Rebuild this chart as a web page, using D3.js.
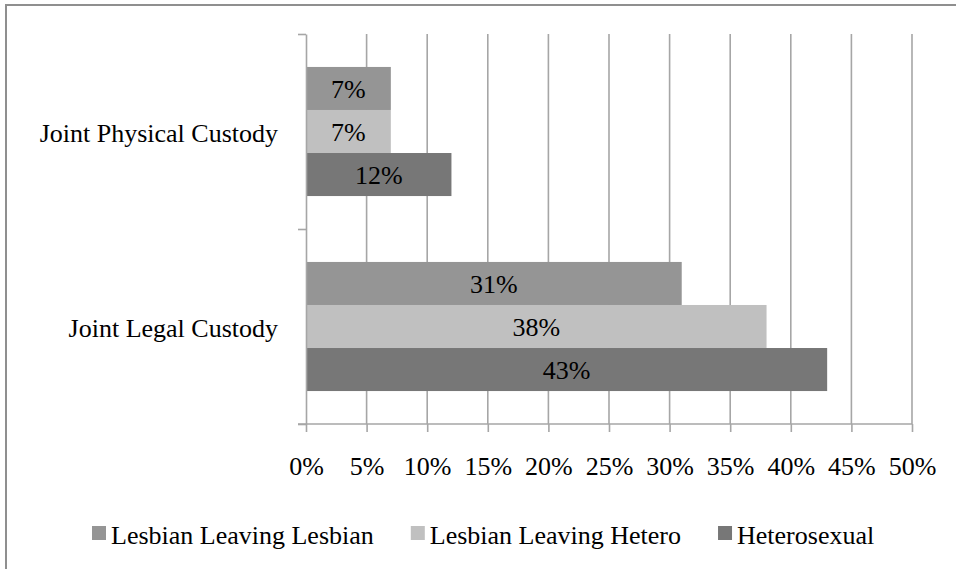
<!DOCTYPE html>
<html>
<head>
<meta charset="utf-8">
<script src="https://cdn.jsdelivr.net/npm/d3@7"></script>
<style>
  body { margin: 0; background: #fff; }
  text { font-family: "Liberation Serif", "Times New Roman", serif; fill: #000; }
</style>
</head>
<body>
<div id="chart"></div>
<script>
// Chart data
const categories = ["Joint Physical Custody", "Joint Legal Custody"];
const seriesNames = ["Lesbian Leaving Lesbian", "Lesbian Leaving Hetero", "Heterosexual"];
const lesbianLeavingLesbian = [7, 31];
const lesbianLeavingHetero = [7, 38];
const heterosexual = [12, 43];
const xTicks = [0, 5, 10, 15, 20, 25, 30, 35, 40, 45, 50];

const seriesValues = [lesbianLeavingLesbian, lesbianLeavingHetero, heterosexual];
const colors = ["#959595", "#c0c0c0", "#777777"];

drawBarChart();

function drawBarChart() {
    const width = 956, height = 569;
    const margin = { top: 34, right: 44, bottom: 145, left: 306 };
    const plotW = width - margin.left - margin.right;
    const plotH = height - margin.top - margin.bottom;
    const gridColor = "#a6a6a6";

    const svg = d3.select("#chart")
        .append("svg")
        .attr("width", width)
        .attr("height", height);

    // Outer frame (only top and left edges are in view)
    svg.append("path")
        .attr("d", `M6,${height} L6,5 L${width},5`)
        .attr("fill", "none")
        .attr("stroke", "#8f8f8f")
        .attr("stroke-width", 2);

    const g = svg.append("g")
        .attr("transform", `translate(${margin.left},${margin.top})`);

    // Scales
    const x = d3.scaleLinear().domain([0, 50]).range([0, plotW]);
    const y0 = d3.scaleBand()
        .domain(categories)
        .range([0, plotH])
        .paddingInner(0.338)
        .paddingOuter(0.169);
    const y1 = d3.scaleBand()
        .domain(seriesNames)
        .range([0, y0.bandwidth()]);

    // Vertical gridlines
    g.selectAll(".grid")
        .data(xTicks.slice(1))
        .enter()
        .append("line")
        .attr("x1", d => x(d))
        .attr("x2", d => x(d))
        .attr("y1", 0)
        .attr("y2", plotH)
        .attr("stroke", gridColor)
        .attr("stroke-width", 1.6);

    // Bars + value labels
    categories.forEach(function(cat, ci) {
        seriesNames.forEach(function(name, si) {
            const v = seriesValues[si][ci];
            g.append("rect")
                .attr("x", x(0))
                .attr("y", y0(cat) + y1(name))
                .attr("width", x(v) - x(0))
                .attr("height", y1.bandwidth())
                .attr("fill", colors[si]);
            g.append("text")
                .attr("x", x(v) / 2)
                .attr("y", y0(cat) + y1(name) + y1.bandwidth() / 2)
                .attr("dy", "0.36em")
                .attr("text-anchor", "middle")
                .style("font-size", "26px")
                .text(v + "%");
        });
    });

    // X axis
    const xAxis = g.append("g")
        .attr("transform", `translate(0,${plotH})`)
        .call(d3.axisBottom(x)
            .tickValues(xTicks)
            .tickSize(8)
            .tickSizeOuter(0)
            .tickPadding(25)
            .tickFormat(d => d + "%"));
    xAxis.select(".domain").remove();
    xAxis.selectAll(".tick line").attr("stroke", gridColor).attr("stroke-width", 1.6);
    xAxis.selectAll(".tick text")
        .style("font-size", "26px")
        .style("font-family", "'Liberation Serif', 'Times New Roman', serif");
    xAxis.append("line")
        .attr("x1", -8).attr("x2", plotW)
        .attr("stroke", gridColor).attr("stroke-width", 1.6);

    // Y axis, ticks sit on the category boundaries
    const yEdge = d3.scaleLinear().domain([0, categories.length]).range([0, plotH]);
    const yAxis = g.append("g")
        .call(d3.axisLeft(yEdge)
            .tickValues(d3.range(categories.length + 1))
            .tickSize(8)
            .tickSizeOuter(0)
            .tickFormat(""));
    yAxis.select(".domain").attr("stroke", gridColor).attr("stroke-width", 1.6);
    yAxis.selectAll(".tick line").attr("stroke", gridColor).attr("stroke-width", 1.6);

    // Category labels
    g.selectAll(".cat")
        .data(categories)
        .enter()
        .append("text")
        .attr("x", -28)
        .attr("y", d => y0(d) + y0.bandwidth() / 2)
        .attr("dy", "0.42em")
        .attr("text-anchor", "end")
        .style("font-size", "26px")
        .text(d => d);

    // Legend
    const legend = svg.append("g");
    let lx = 92;
    seriesNames.forEach(function(name, i) {
        legend.append("rect")
            .attr("x", lx)
            .attr("y", 526)
            .attr("width", 14)
            .attr("height", 14)
            .attr("fill", colors[i]);
        const t = legend.append("text")
            .attr("x", lx + 19)
            .attr("y", 544)
            .style("font-size", "26px")
            .text(name);
        lx += 19 + t.node().getComputedTextLength() + 37;
    });
}
</script>
</body>
</html>
